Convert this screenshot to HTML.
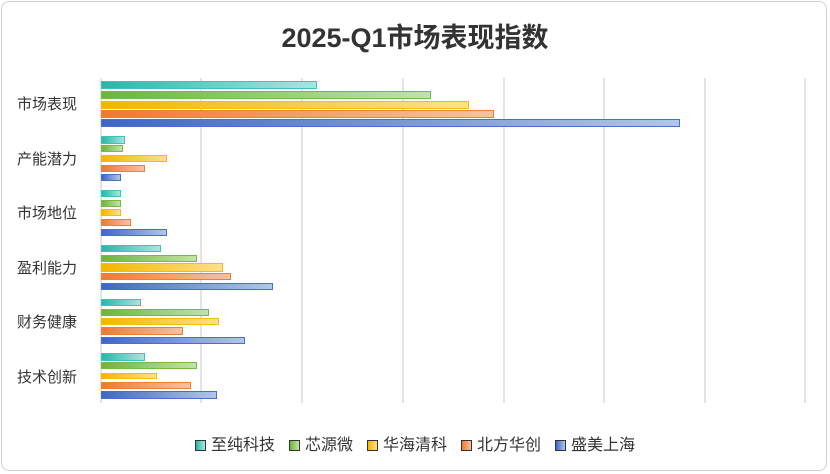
<!DOCTYPE html>
<html><head><meta charset="utf-8"><style>
body{margin:0;background:#fff;}
.wrap{position:relative;width:830px;height:474px;overflow:hidden;font-family:"Liberation Sans","Noto Sans CJK SC",sans-serif;}
.frame{position:absolute;left:1px;top:1px;width:826px;height:470px;border:1px solid #d0d0d0;border-radius:8px;box-sizing:border-box;}
.title{position:absolute;left:0;width:830px;top:16px;text-align:center;font-size:27px;font-weight:bold;color:#333;}
.g{position:absolute;top:78px;height:325px;width:2px;background:#e4e4e4;}
.lab{position:absolute;left:17px;font-size:15px;color:#333;}
.b{position:absolute;left:101px;box-sizing:border-box;border:1.5px solid;}
.t{background:linear-gradient(90deg,#2bb5a8,#a8e6df);border-color:#3cc4b6;}
.gr{background:linear-gradient(90deg,#6db53c,#c2e3a6);border-color:#77bb44;}
.y{background:linear-gradient(90deg,#f2b600,#ffe18a);border-color:#f5bd00;}
.o{background:linear-gradient(90deg,#ee7a30,#f8c2a0);border-color:#f07f35;}
.bl{background:linear-gradient(90deg,#3e66c6,#b3c5ec);border-color:#4470d0;}
.leg{position:absolute;top:431px;left:0;width:830px;text-align:center;font-size:16px;color:#333;}
.leg span{display:inline-block;margin:0 7px;}
.leg i{display:inline-block;width:11px;height:11px;vertical-align:-1px;margin-right:5px;box-sizing:border-box;border:1.5px solid;}
</style></head><body><div class="wrap">
<div class="frame"></div>
<div class="title">2025-Q1市场表现指数</div>
<div class="g" style="left:100px"></div><div class="g" style="left:200px"></div><div class="g" style="left:301px"></div><div class="g" style="left:402px"></div><div class="g" style="left:503px"></div><div class="g" style="left:603px"></div><div class="g" style="left:704px"></div><div class="g" style="left:804px"></div>
<div class="lab" style="top:93px">市场表现</div>
<div class="lab" style="top:148px">产能潜力</div>
<div class="lab" style="top:202px">市场地位</div>
<div class="lab" style="top:257px">盈利能力</div>
<div class="lab" style="top:311px">财务健康</div>
<div class="lab" style="top:366px">技术创新</div>

<div class="b t" style="top:81px;height:8px;width:216px"></div>
<div class="b gr" style="top:91px;height:8px;width:330px"></div>
<div class="b y" style="top:101px;height:8px;width:368px"></div>
<div class="b o" style="top:110px;height:8px;width:393px"></div>
<div class="b bl" style="top:119px;height:8px;width:579px"></div>

<div class="b t" style="top:136px;height:8px;width:24px"></div>
<div class="b gr" style="top:145px;height:7px;width:22px"></div>
<div class="b y" style="top:155px;height:7px;width:66px"></div>
<div class="b o" style="top:165px;height:7px;width:44px"></div>
<div class="b bl" style="top:174px;height:7px;width:20px"></div>

<div class="b t" style="top:190px;height:7px;width:20px"></div>
<div class="b gr" style="top:200px;height:7px;width:20px"></div>
<div class="b y" style="top:209px;height:7px;width:20px"></div>
<div class="b o" style="top:219px;height:7px;width:30px"></div>
<div class="b bl" style="top:229px;height:7px;width:66px"></div>

<div class="b t" style="top:245px;height:7px;width:60px"></div>
<div class="b gr" style="top:255px;height:7px;width:96px"></div>
<div class="b y" style="top:263px;height:9px;width:122px"></div>
<div class="b o" style="top:273px;height:7px;width:130px"></div>
<div class="b bl" style="top:283px;height:7px;width:172px"></div>

<div class="b t" style="top:299px;height:7px;width:40px"></div>
<div class="b gr" style="top:309px;height:7px;width:108px"></div>
<div class="b y" style="top:318px;height:7px;width:118px"></div>
<div class="b o" style="top:327px;height:8px;width:82px"></div>
<div class="b bl" style="top:337px;height:7px;width:144px"></div>

<div class="b t" style="top:353px;height:8px;width:44px"></div>
<div class="b gr" style="top:362px;height:7px;width:96px"></div>
<div class="b y" style="top:373px;height:6px;width:56px"></div>
<div class="b o" style="top:382px;height:7px;width:90px"></div>
<div class="b bl" style="top:391px;height:8px;width:116px"></div>

<div class="leg"><span><i class="t"></i>至纯科技</span><span><i class="gr"></i>芯源微</span><span><i class="y"></i>华海清科</span><span><i class="o"></i>北方华创</span><span><i class="bl"></i>盛美上海</span></div>
</div></body></html>
